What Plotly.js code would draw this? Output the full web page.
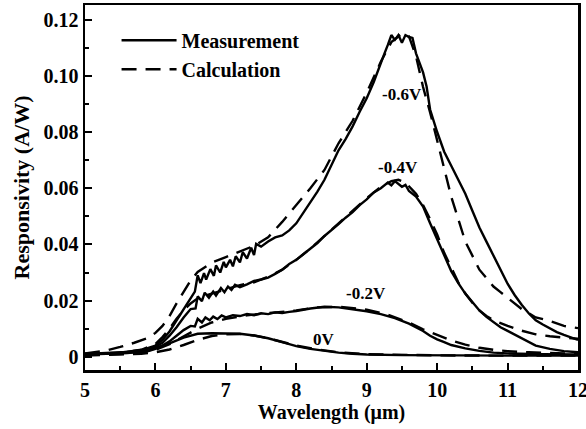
<!DOCTYPE html>
<html>
<head>
<meta charset="utf-8">
<script src="https://cdn.plot.ly/plotly-3.0.1.min.js"></script>
<style>html,body{margin:0;padding:0;background:#fff;}#chart{width:586px;height:429px;}</style>
</head>
<body>
<div id="chart"></div>
<script>
// -0.6 V
const x06m = [5.0,5.2,5.4,5.6,5.8,6.0,6.1,6.2,6.3,6.4,6.5,6.56,6.6,6.64,6.69,6.72,6.78,6.83,6.86,6.92,6.97,7.0,7.06,7.1,7.14,7.2,7.24,7.3,7.36,7.4,7.43,7.5,7.6,7.7,7.8,7.9,8.0,8.1,8.2,8.3,8.4,8.5,8.6,8.7,8.8,8.9,9.0,9.1,9.2,9.25,9.3,9.35,9.4,9.45,9.5,9.55,9.6,9.65,9.7,9.75,9.8,9.85,9.9,10.0,10.1,10.2,10.3,10.4,10.5,10.6,10.7,10.8,10.9,11.0,11.1,11.2,11.3,11.4,11.5,11.6,11.7,11.8,11.9,12.0];
const y06m = [0.0010,0.0013,0.0012,0.0018,0.0024,0.0040,0.0060,0.0090,0.0130,0.0170,0.0210,0.0232,0.0290,0.0262,0.0298,0.0275,0.0312,0.0288,0.0325,0.0300,0.0338,0.0318,0.0345,0.0322,0.0358,0.0336,0.0372,0.0350,0.0388,0.0362,0.0402,0.0392,0.0410,0.0425,0.0432,0.0450,0.0475,0.0512,0.0548,0.0588,0.0630,0.0685,0.0735,0.0775,0.0820,0.0872,0.0920,0.0978,0.1040,0.1078,0.1110,0.1145,0.1128,0.1145,0.1118,0.1145,0.1138,0.1135,0.1080,0.1042,0.1012,0.0962,0.0880,0.0800,0.0730,0.0680,0.0630,0.0580,0.0520,0.0460,0.0410,0.0360,0.0305,0.0260,0.0220,0.0185,0.0155,0.0130,0.0115,0.0100,0.0088,0.0078,0.0068,0.0060];
const x06c = [5.0,5.3,5.5,5.7,5.9,6.0,6.1,6.2,6.3,6.4,6.5,6.6,6.7,6.8,7.0,7.2,7.4,7.6,7.8,8.0,8.2,8.4,8.6,8.8,9.0,9.2,9.35,9.5,9.6,9.7,9.8,9.9,10.0,10.1,10.2,10.3,10.4,10.5,10.6,10.7,10.8,10.9,11.0,11.2,11.4,11.6,11.8,12.0];
const y06c = [0.0012,0.0022,0.0035,0.0050,0.0068,0.0085,0.0110,0.0145,0.0190,0.0232,0.0272,0.0302,0.0320,0.0335,0.0355,0.0375,0.0395,0.0425,0.0480,0.0540,0.0600,0.0665,0.0760,0.0840,0.0940,0.1050,0.1120,0.1150,0.1140,0.1070,0.0960,0.0870,0.0770,0.0670,0.0570,0.0490,0.0410,0.0360,0.0310,0.0280,0.0250,0.0230,0.0210,0.0170,0.0140,0.0128,0.0110,0.0102];
// -0.4 V
const x04m = [5.0,5.2,5.4,5.6,5.8,6.0,6.1,6.2,6.3,6.4,6.5,6.57,6.6,6.66,6.7,6.76,6.82,6.86,6.93,6.98,7.03,7.08,7.13,7.2,7.3,7.4,7.5,7.6,7.7,7.8,7.9,8.0,8.1,8.2,8.3,8.4,8.5,8.6,8.7,8.8,8.9,9.0,9.1,9.2,9.3,9.35,9.4,9.45,9.5,9.55,9.6,9.7,9.8,9.9,10.0,10.1,10.2,10.3,10.4,10.5,10.6,10.7,10.8,10.9,11.0,11.2,11.4,11.6,11.8,12.0];
const y04m = [0.0010,0.0012,0.0013,0.0017,0.0022,0.0035,0.0050,0.0075,0.0105,0.0140,0.0170,0.0172,0.0215,0.0198,0.0228,0.0210,0.0232,0.0218,0.0245,0.0230,0.0250,0.0238,0.0256,0.0248,0.0258,0.0270,0.0275,0.0282,0.0295,0.0310,0.0330,0.0345,0.0365,0.0385,0.0405,0.0430,0.0450,0.0472,0.0495,0.0515,0.0540,0.0560,0.0585,0.0600,0.0620,0.0610,0.0625,0.0615,0.0605,0.0612,0.0590,0.0570,0.0535,0.0475,0.0420,0.0360,0.0305,0.0262,0.0225,0.0195,0.0165,0.0142,0.0122,0.0105,0.0092,0.0067,0.0040,0.0028,0.0020,0.0016];
const x04c = [5.0,5.5,5.8,6.0,6.1,6.2,6.3,6.4,6.5,6.6,6.8,7.0,7.2,7.4,7.6,7.8,8.0,8.2,8.4,8.6,8.8,9.0,9.2,9.35,9.45,9.55,9.7,9.8,9.9,10.0,10.1,10.2,10.3,10.4,10.5,10.6,10.7,10.8,10.9,11.0,11.2,11.4,11.6,11.8,12.0];
const y04c = [0.0008,0.0015,0.0025,0.0045,0.0070,0.0100,0.0135,0.0165,0.0190,0.0208,0.0225,0.0240,0.0255,0.0265,0.0285,0.0310,0.0345,0.0385,0.0430,0.0475,0.0520,0.0565,0.0605,0.0625,0.0630,0.0620,0.0580,0.0540,0.0490,0.0435,0.0370,0.0315,0.0265,0.0225,0.0192,0.0165,0.0145,0.0130,0.0120,0.0110,0.0093,0.0080,0.0073,0.0068,0.0064];
// -0.2 V
const x02m = [5.0,5.3,5.6,5.9,6.0,6.1,6.2,6.3,6.4,6.5,6.56,6.6,6.66,6.71,6.77,6.82,6.88,6.94,7.0,7.1,7.2,7.3,7.4,7.5,7.6,7.7,7.8,7.9,8.0,8.2,8.4,8.6,8.8,9.0,9.2,9.4,9.6,9.8,9.9,10.0,10.1,10.2,10.4,10.6,10.8,11.0,11.5,12.0];
const y02m = [0.0008,0.0011,0.0013,0.0020,0.0028,0.0040,0.0055,0.0075,0.0095,0.0110,0.0108,0.0135,0.0122,0.0140,0.0130,0.0143,0.0134,0.0147,0.0140,0.0148,0.0145,0.0152,0.0148,0.0155,0.0152,0.0158,0.0156,0.0160,0.0163,0.0172,0.0178,0.0176,0.0170,0.0162,0.0152,0.0138,0.0118,0.0092,0.0075,0.0062,0.0052,0.0042,0.0030,0.0021,0.0015,0.0012,0.0009,0.0008];
const x02c = [5.0,5.5,5.8,6.0,6.2,6.4,6.6,6.8,7.0,7.3,7.6,8.0,8.3,8.6,9.0,9.3,9.6,9.8,10.0,10.2,10.4,10.6,10.8,11.0,11.3,11.6,12.0];
const y02c = [0.0006,0.0010,0.0016,0.0025,0.0045,0.0072,0.0100,0.0122,0.0135,0.0148,0.0156,0.0165,0.0176,0.0178,0.0168,0.0150,0.0122,0.0098,0.0078,0.0058,0.0043,0.0032,0.0025,0.0020,0.0016,0.0013,0.0010];
// 0 V
const x00m = [5.0,5.3,5.6,5.9,6.0,6.2,6.4,6.6,6.8,7.0,7.2,7.4,7.6,7.8,8.0,8.2,8.4,8.6,8.8,9.0,9.5,10.0,11.0,12.0];
const y00m = [0.0010,0.0011,0.0014,0.0022,0.0030,0.0048,0.0068,0.0082,0.0084,0.0083,0.0082,0.0076,0.0066,0.0052,0.0038,0.0028,0.0021,0.0015,0.0011,0.0008,0.0006,0.0005,0.0004,0.0004];
const x00c = [5.0,5.5,5.8,6.0,6.2,6.4,6.6,6.8,7.0,7.2,7.4,7.6,7.8,8.0,8.3,8.6,9.0,9.5,10.0,11.0,12.0];
const y00c = [0.0004,0.0007,0.0011,0.0016,0.0026,0.0042,0.0060,0.0074,0.0080,0.0081,0.0076,0.0066,0.0052,0.0040,0.0026,0.0016,0.0009,0.0006,0.0005,0.0004,0.0004];

const seriesNames = ["Measurement","Calculation"];
const biasLabels = ["-0.6V","-0.4V","-0.2V","0V"];
const labelX = [9.50, 9.44, 8.99, 8.39];
const labelY = [0.0935, 0.0675, 0.0227, 0.0063];
const xTickVals = [5,6,7,8,9,10,11,12];
const xTickText = ["5","6","7","8","9","10","11","12"];
const yTickVals = [0,0.02,0.04,0.06,0.08,0.10,0.12];
const yTickText = ["0","0.02","0.04","0.06","0.08","0.10","0.12"];

const FONT = "Liberation Serif";
const solid = {color:"#000", width:2.4};
const dashed = {color:"#000", width:2.4, dash:"15px,9px"};

const meas = [[x06m,y06m],[x04m,y04m],[x02m,y02m],[x00m,y00m]];
const calc = [[x06c,y06c],[x04c,y04c],[x02c,y02c],[x00c,y00c]];
const traces = [];
meas.forEach((d,i)=>traces.push({x:d[0],y:d[1],mode:"lines",line:solid,name:seriesNames[0],showlegend:i===0,legendrank:1}));
calc.forEach((d,i)=>traces.push({x:d[0],y:d[1],mode:"lines",line:dashed,name:seriesNames[1],showlegend:i===0,legendrank:2}));

const annotations = biasLabels.map((t,i)=>({x:labelX[i],y:labelY[i],xref:"x",yref:"y",text:"<b>"+t+"</b>",showarrow:false,font:{family:FONT,size:17,color:"#000"}}));

const layout = {
  width:586, height:429,
  margin:{l:85,r:8,t:5,b:59},
  paper_bgcolor:"#fff", plot_bgcolor:"#fff",
  font:{family:FONT,color:"#000"},
  showlegend:true,
  legend:{x:0.064,y:0.957,xanchor:"left",yanchor:"top",bgcolor:"rgba(0,0,0,0)",font:{family:FONT,size:20,color:"#000",weight:"bold"},itemwidth:55,tracegroupgap:0},
  xaxis:{range:[5,12],tickmode:"array",tickvals:xTickVals,ticktext:xTickText,ticks:"inside",ticklen:7,tickwidth:2,tickcolor:"#000",
    ticklabeloverflow:"allow",
    showline:true,linewidth:2.5,linecolor:"#000",mirror:true,showgrid:false,zeroline:false,
    minor:{dtick:0.5,tick0:5,ticks:"inside",ticklen:4,tickwidth:2,tickcolor:"#000",showgrid:false},
    tickfont:{family:FONT,size:20,color:"#000",weight:"bold"},
    title:{text:"Wavelength (μm)",font:{family:FONT,size:20,color:"#000",weight:"bold"},standoff:6}},
  yaxis:{range:[-0.0047,0.1252],tickmode:"array",tickvals:yTickVals,ticktext:yTickText,ticks:"inside",ticklen:7,tickwidth:2,tickcolor:"#000",
    showline:true,linewidth:2.5,linecolor:"#000",mirror:true,showgrid:false,zeroline:false,
    minor:{dtick:0.01,tick0:0,ticks:"inside",ticklen:4,tickwidth:2,tickcolor:"#000",showgrid:false},
    tickfont:{family:FONT,size:20,color:"#000",weight:"bold"},
    title:{text:"Responsivity (A/W)",font:{family:FONT,size:22,color:"#000",weight:"bold"},standoff:8}},
  annotations:annotations
};
Plotly.newPlot("chart",traces,layout,{staticPlot:true,displayModeBar:false});
</script>
</body>
</html>
